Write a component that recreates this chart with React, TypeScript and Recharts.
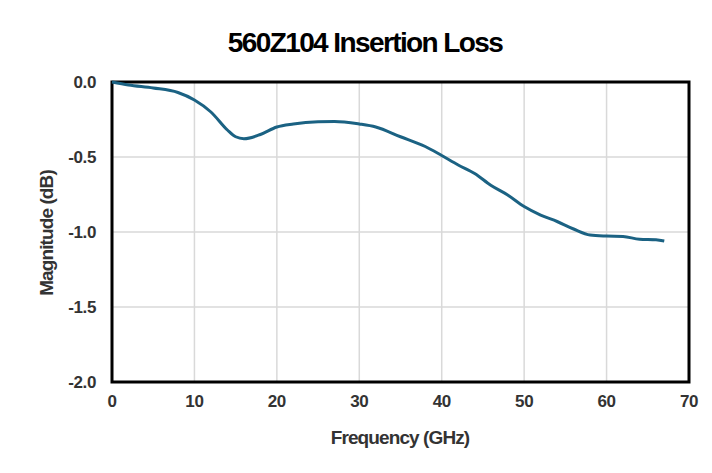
import React from 'react';
import { LineChart, Line, XAxis, YAxis, CartesianGrid, ReferenceArea } from 'recharts';

const frequencies = [0, 2, 5, 8, 10, 12, 14, 15, 16, 18, 20, 22, 25, 27, 30, 32, 35, 38, 40, 42, 44, 46, 48, 50, 52, 54, 56, 58, 60, 62, 64, 66, 67];
const magnitudes = [0, -0.02, -0.04, -0.07, -0.12, -0.2, -0.32, -0.365, -0.378, -0.35, -0.3, -0.28, -0.265, -0.263, -0.28, -0.3, -0.365, -0.43, -0.49, -0.553, -0.61, -0.69, -0.753, -0.83, -0.887, -0.93, -0.98, -1.02, -1.027, -1.03, -1.048, -1.052, -1.06];
const xTicks = [0, 10, 20, 30, 40, 50, 60, 70];
const yTicks = [-2, -1.5, -1, -0.5, 0];

const data = frequencies.map((f, i) => ({ freq: f, mag: magnitudes[i] }));

const font = '"Liberation Sans", Arial, sans-serif';
const labelColor = '#333333';

export default function App() {
  return (
    <div style={{ position: 'relative', width: 712, height: 473, margin: -8, background: '#fff', overflow: 'hidden' }}>
      <div
        style={{
          position: 'absolute',
          left: 6,
          top: 4,
          width: 720,
          height: 480,
          borderTop: '2px solid #222',
          borderLeft: '2px solid #222',
        }}
      />
      <LineChart
        width={712}
        height={473}
        data={data}
        margin={{ top: 82, right: 23, bottom: 61, left: 52 }}
        style={{ position: 'absolute', left: 0, top: 0 }}
      >
        <text x={365} y={52} textAnchor="middle" fontFamily={font} fontWeight="bold" fontSize={28} letterSpacing={-1.6} fill="#000">
          560Z104 Insertion Loss
        </text>
        <text x={400} y={444} textAnchor="middle" fontFamily={font} fontWeight="bold" fontSize={19} letterSpacing={-0.9} fill={labelColor}>
          Frequency (GHz)
        </text>
        <text
          x={0}
          y={0}
          transform="translate(53, 233) rotate(-90)"
          textAnchor="middle"
          fontFamily={font}
          fontWeight="bold"
          fontSize={19}
          letterSpacing={-0.9}
          fill={labelColor}
        >
          Magnitude (dB)
        </text>
        <CartesianGrid stroke="#d9d9d9" strokeWidth={1.5} />
        <XAxis
          type="number"
          dataKey="freq"
          domain={[0, 70]}
          ticks={xTicks}
          axisLine={false}
          tickLine={false}
          height={30}
          tick={({ x, y, payload }: any) => (
            <text x={x} y={y + 17} textAnchor="middle" fontFamily={font} fontWeight="bold" fontSize={17} letterSpacing={-0.4} fill={labelColor}>
              {payload.value}
            </text>
          )}
        />
        <YAxis
          type="number"
          domain={[-2, 0]}
          ticks={yTicks}
          axisLine={false}
          tickLine={false}
          width={60}
          tick={({ x, y, payload }: any) => (
            <text x={x - 8} y={y + 6} textAnchor="end" fontFamily={font} fontWeight="bold" fontSize={17} letterSpacing={-0.4} fill={labelColor}>
              {Number(payload.value).toFixed(1)}
            </text>
          )}
        />
        <ReferenceArea x1={0} x2={70} y1={-2} y2={0} fill="none" stroke="#000" strokeWidth={3} ifOverflow="visible" />
        <Line
          type="monotone"
          dataKey="mag"
          stroke="#1b6283"
          strokeWidth={3}
          dot={false}
          isAnimationActive={false}
        />
      </LineChart>
    </div>
  );
}
